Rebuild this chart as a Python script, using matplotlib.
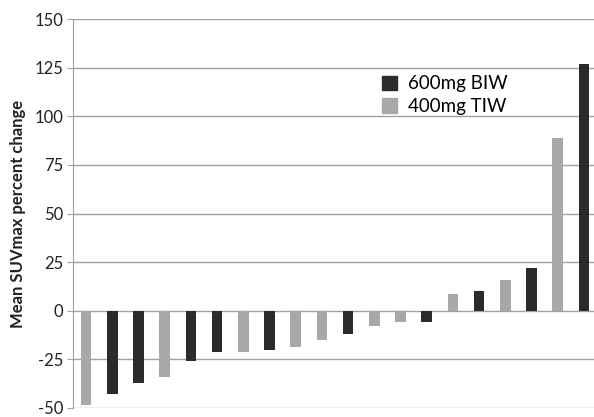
import numpy as np
import matplotlib.pyplot as plt
from matplotlib.patches import Patch

# Data (sorted waterfall)
values = [-48.5, -43, -37, -34, -26, -21, -21, -20, -18.5, -15,
          -12, -8, -6, -6, 8.5, 10, 16, 22, 89, 127]
groups = ['T', 'B', 'B', 'T', 'B', 'B', 'T', 'B', 'T', 'T',
          'B', 'T', 'T', 'B', 'T', 'B', 'T', 'B', 'T', 'B']
labels = {'B': '600mg BIW', 'T': '400mg TIW'}
colors = {'B': '#2b2b2b', 'T': '#a8a8a8'}
yticks = [-50, -25, 0, 25, 50, 75, 100, 125, 150]

plt.rcParams['font.family'] = ['Lato', 'DejaVu Sans']

fig = plt.figure(figsize=(5.94, 4.17), dpi=100)
ax = fig.add_axes([73 / 594, 9 / 417, 524 / 594, 389 / 417])

x = np.arange(len(values))
ax.bar(x, values, width=0.41, color=[colors[g] for g in groups], zorder=3)

ax.set_xlim(-0.5, len(values) - 0.5)
ax.set_ylim(-50, 150)
ax.set_yticks(yticks)
ax.set_yticklabels([str(t) for t in yticks], fontsize=12, color='#222222')
ax.set_xticks([])
ax.yaxis.grid(True, color='#a0a0a0', linewidth=1.0, zorder=0)
ax.tick_params(axis='y', length=4, color='#a0a0a0', pad=3)
for s in ['top', 'right', 'bottom']:
    ax.spines[s].set_visible(False)
ax.spines['left'].set_color('#a0a0a0')

ax.set_ylabel('Mean SUVmax percent change', fontsize=12, fontweight='bold',
              color='#222222', labelpad=6)

handles = [Patch(color=colors['B'], label=labels['B']),
           Patch(color=colors['T'], label=labels['T'])]
ax.legend(handles=handles, loc='upper left', bbox_to_anchor=(0.59, 0.855),
          frameon=False, fontsize=13.5, handlelength=0.8, handleheight=0.8,
          handletextpad=0.6, labelspacing=0.3, borderpad=0, borderaxespad=0)

fig.savefig('out.png', dpi=100)
